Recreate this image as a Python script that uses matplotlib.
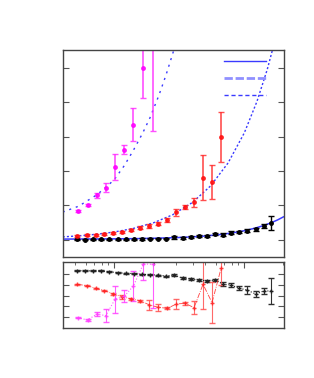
import matplotlib
matplotlib.use("Agg")
from matplotlib import pyplot as plt
from matplotlib.lines import Line2D

# black series
x_k = [0.519, 0.595, 0.69, 0.79, 0.916, 1.06, 1.23, 1.42, 1.63, 1.88, 2.18, 2.50, 2.90,
       3.36, 3.87, 4.48, 5.16, 5.95, 6.90, 7.90, 9.16, 10.5, 12.2, 14.1, 16.1]
y_k = [0.01, 0.0, 0.01, 0.01, 0.01, 0.01, 0.01, 0.01, 0.02, 0.03, 0.03, 0.03, 0.06,
       0.05, 0.07, 0.09, 0.10, 0.15, 0.14, 0.20, 0.22, 0.26, 0.30, 0.40, 0.49]
e_k = [0.02, 0.02, 0.02, 0.02, 0.02, 0.02, 0.02, 0.02, 0.02, 0.02, 0.02, 0.02, 0.03,
       0.03, 0.03, 0.03, 0.03, 0.03, 0.04, 0.04, 0.04, 0.05, 0.05, 0.05, 0.2]
r_k = [5.30, 5.30, 5.28, 5.28, 5.21, 5.12, 5.06, 5.04, 4.97, 4.93, 4.90, 4.81, 4.90,
       4.60, 4.54, 4.44, 4.35, 4.44, 4.05, 3.98, 3.68, 3.52, 3.15, 3.43, 3.43]
re_k = [0.05, 0.05, 0.05, 0.05, 0.05, 0.05, 0.05, 0.05, 0.05, 0.05, 0.05, 0.05, 0.08,
        0.1, 0.1, 0.12, 0.12, 0.12, 0.2, 0.2, 0.2, 0.35, 0.25, 0.25, 1.23]

# red series
x_r = [0.519, 0.613, 0.719, 0.838, 0.983, 1.153, 1.352, 1.586, 1.86, 2.18, 2.56, 3.0,
       3.50, 4.10, 4.81, 5.64, 6.62]
y_r = [0.11, 0.13, 0.145, 0.17, 0.20, 0.23, 0.27, 0.34, 0.40, 0.46, 0.57, 0.79,
       0.95, 1.08, 1.80, 1.68, 2.98]
e_r = [0.03, 0.03, 0.03, 0.03, 0.03, 0.03, 0.03, 0.04, 0.05, 0.05, 0.05, 0.1,
       0.05, 0.13, 0.65, 0.5, 0.72]
r_r = [4.05, 3.92, 3.68, 3.46, 3.15, 2.90, 2.69, 2.53, 2.14, 1.92, 1.83, 2.23,
       2.29, 1.89, 4.05, 2.35, 5.52]
re_r = [0.05, 0.05, 0.05, 0.05, 0.1, 0.2, 0.1, 0.1, 0.43, 0.32, 0.1, 0.5,
        0.15, 0.62, 2.28, 1.89, 1.54]

# magenta series
x_m = [0.523, 0.621, 0.732, 0.859, 1.01, 1.19, 1.40, 1.67, 1.97]
y_m = [0.84, 1.0, 1.29, 1.51, 2.11, 2.62, 3.35, 4.99, 5.9]
e_m = [0.03, 0.03, 0.07, 0.14, 0.39, 0.13, 0.48, 0.87, 2.75]
r_m = [0.96, 0.75, 1.30, 1.15, 2.66, 2.94, 3.89, 5.92, 5.9]
re_m = [0.05, 0.1, 0.2, 0.62, 1.23, 0.54, 1.38, 1.48, 4.0]

# fit curves
fx_k = [0.4, 0.7, 1.0, 1.5, 2.0, 3.0, 4.0, 5.0, 6.5, 8.0, 10, 12, 14, 16, 18, 20]
fy_k = [0.013, 0.016, 0.02, 0.027, 0.036, 0.056, 0.078, 0.103, 0.145, 0.19, 0.256,
        0.328, 0.404, 0.485, 0.57, 0.66]
fx_r = [0.4, 0.55, 0.75, 1.0, 1.4, 2.0, 2.8, 4.0, 5.5, 7.5, 10, 12.5, 15, 17]
fy_r = [0.077, 0.111, 0.158, 0.22, 0.324, 0.488, 0.719, 1.083, 1.562, 2.232, 3.108,
        4.02, 4.95, 5.72]
fx_m = [0.4, 0.53, 0.73, 0.86, 1.0, 1.19, 1.4, 1.65, 1.88, 2.2, 2.5, 2.84, 2.95]
fy_m = [0.80, 0.97, 1.30, 1.52, 1.75, 2.15, 2.6, 3.1, 3.55, 4.2, 4.8, 5.47, 5.7]

fig = plt.figure(figsize=(3.14, 3.78), dpi=100)
ax = fig.add_axes([0.1997, 0.3209, 0.7048, 0.5468])
ax2 = fig.add_axes([0.1997, 0.1331, 0.7048, 0.173])

blue = '#3a3aff'
ax.plot(fx_k, fy_k, color=blue, lw=1.1)
ax.plot(fx_r, fy_r, color=blue, lw=1.0, dashes=(1.5, 1.5))
ax.plot(fx_m, fy_m, color=blue, lw=1.0, dashes=(1.5, 3.5))

ax.errorbar(x_k, y_k, yerr=e_k, fmt='o', ms=2.5, color='black', ecolor='black',
            elinewidth=1, capsize=2)
ax.errorbar(x_r, y_r, yerr=e_r, fmt='o', ms=2.5, color='#ff1010', ecolor='#ff3030',
            elinewidth=1.2, capsize=2, alpha=0.85)
ax.errorbar(x_m, y_m, yerr=e_m, fmt='o', ms=2.5, color='#ff00ff', ecolor='#ff30ff',
            elinewidth=1.2, capsize=2, alpha=0.85)

h1 = Line2D([], [], color=blue, lw=1.0)
h2 = Line2D([], [], color='#9090ff', lw=2.0, dashes=(3, 1))
h3 = Line2D([], [], color=blue, lw=1.0, dashes=(3, 2))
ax.legend([h1, h2, h3], ['', '', ''], loc='upper left', bbox_to_anchor=(0.73, 0.965),
          frameon=False, handlelength=3.8, fontsize=8, labelspacing=0.6,
          borderpad=0, borderaxespad=0)

ax2.errorbar(x_k, r_k, yerr=re_k, fmt='+', ms=3.5, color='#202020', ecolor='#303030',
             elinewidth=0.8, capsize=2, ls=':', lw=0.8)
ax2.errorbar(x_r, r_r, yerr=re_r, fmt='+', ms=3.5, color='#ff2020', ecolor='#ff5050',
             elinewidth=0.8, capsize=2, ls='-.', lw=0.6, alpha=0.85)
ax2.errorbar(x_m, r_m, yerr=re_m, fmt='+', ms=3.5, color='#ff40ff', ecolor='#ff40ff',
             elinewidth=0.8, capsize=2, ls=':', lw=0.8, alpha=0.85)

for a in (ax, ax2):
    a.set_xscale('log')
    a.set_xlim(0.4, 20.2)
    for s in a.spines.values():
        s.set_color('#444444')
        s.set_linewidth(1.0)
    a.tick_params(axis='y', which='both', direction='in', left=True, right=True,
                  length=4, color='#555555', labelleft=False)
    a.yaxis.set_minor_locator(matplotlib.ticker.NullLocator())

ax.set_ylim(-0.5, 5.52)
ax.set_yticks([0, 1, 2, 3, 4, 5])
ax.tick_params(axis='x', which='both', bottom=False, top=False, labelbottom=False)

ax2.set_ylim(0.04, 6.08)
ax2.set_yticks([1, 2, 3, 4, 5])
ax2.tick_params(axis='x', which='both', direction='in', bottom=False, top=True,
                labelbottom=False, color='#555555')
ax2.tick_params(axis='x', which='major', length=4)
ax2.tick_params(axis='x', which='minor', length=2.5)

fig.savefig('out.png', dpi=100)
